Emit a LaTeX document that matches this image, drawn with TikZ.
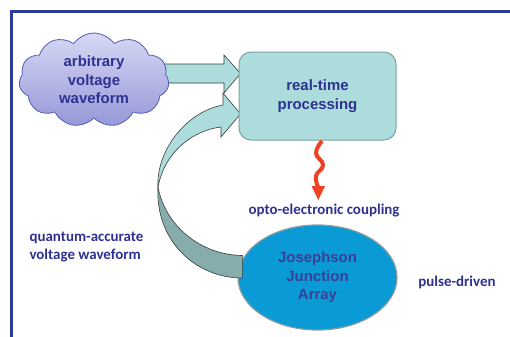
\documentclass[tikz,border=0pt]{standalone}
\usepackage{fontspec}
\setmainfont{Liberation Sans}
\newfontfamily\calfont{Carlito}
\usetikzlibrary{shapes.symbols,shapes.geometric,calc}
\pgfdeclarelayer{bgwhite}
\pgfdeclarelayer{back}
\pgfsetlayers{bgwhite,back,main}
\definecolor{txtblue}{RGB}{46,49,146}
\definecolor{jjatext}{RGB}{58,63,152}
\definecolor{boxfill}{RGB}{172,220,220}
\definecolor{boxline}{RGB}{125,162,162}
\definecolor{darkband}{RGB}{134,172,172}
\definecolor{jja}{RGB}{10,154,214}
\definecolor{jjaline}{RGB}{140,155,160}
\definecolor{cloudtop}{RGB}{214,216,245}
\definecolor{cloudbot}{RGB}{150,152,216}
\definecolor{cloudline}{RGB}{85,90,180}
\definecolor{framecol}{RGB}{43,61,155}
\definecolor{wavered}{RGB}{239,65,35}
\definecolor{arrowline}{RGB}{60,60,60}
\begin{document}
\begin{tikzpicture}[x=1bp,y=-1bp,
  nodetext/.style={font=\bfseries\fontsize{15}{18.5}\selectfont, text=txtblue, align=center},
  labeltext/.style={font=\calfont\bfseries\fontsize{15}{18}\selectfont, text=txtblue},
  fatarrow/.style={draw=arrowline, line width=0.6bp, line join=miter}]
\useasboundingbox (0,0) rectangle (510,336);
\begin{pgfonlayer}{bgwhite}
\fill[white] (0,0) rectangle (510,336);
\draw[framecol, line width=3bp] (11,340) -- (11,11) -- (515,11);
\end{pgfonlayer}

% Josephson junction array (back layer, below the curved band)
\begin{pgfonlayer}{back}
\node[ellipse, draw=jjaline, fill=jja, minimum width=159bp, minimum height=105bp,
      line width=1.2bp, nodetext, text=jjatext] (jja) at (317.5,277.5)
      {Josephson\\Junction\\Array};
\end{pgfonlayer}

% cloud
\node[cloud, cloud puffs=11, cloud puff arc=110, aspect=1.6,
      minimum width=150bp, minimum height=94bp, inner sep=0pt,
      draw=cloudline, line width=0.8bp, top color=cloudtop, bottom color=cloudbot,
      nodetext] (cloud) at (94,80) {arbitrary\\voltage\\waveform};

% processing box
\node[draw=boxline, fill=boxfill, rounded corners=12bp, minimum width=157bp,
      minimum height=88bp, line width=1bp, nodetext] (proc) at (317.5,96)
      {real-time\\processing};

\begin{pgfonlayer}{back}
% straight fat arrow cloud -> box
\draw[fatarrow, fill=boxfill]
  ($(cloud.east)+(-12,-16)$) -- (224,64) -- (224,55) -- ($(proc.west)+(2,-22.5)$)
  -- (224,93) -- (224,83) -- ($(cloud.east)+(-12,3)$) -- cycle;
% curved band: light upper part with head
\draw[fatarrow, fill=boxfill]
  (158,187) .. controls (156,152) and (185,112) .. (223,105)
  -- (223,93) -- ($(proc.west)+(2,18)$) -- (221,137) -- (221,127)
  .. controls (195,130) and (165,150) .. (158,187) -- cycle;
% curved band: dark lower part
\draw[fatarrow, fill=darkband]
  (158,187) .. controls (165,225) and (200,255) .. ($(jja.west)+(5,-22)$)
  -- ($(jja.west)+(5,0.5)$)
  .. controls (195,278) and (155,240) .. (158,187) -- cycle;
\end{pgfonlayer}

% wavy opto-electronic arrow
\draw[wavered, line width=4bp] plot[smooth, tension=0.8] coordinates
  {(322,141) (316,153) (323,165) (316,176) (318.5,188)};
\fill[wavered] (311.5,186) -- (325,186) -- (318.3,200) -- cycle;

% labels
\node[labeltext] (coupling) at (324,211) {opto-electronic coupling};
\node[labeltext] (pulse) at (457,282) {pulse-driven};
\node[labeltext, align=left, anchor=west] (quant) at (26,247)
  {quantum-accurate\\voltage waveform};
\end{tikzpicture}
\end{document}
